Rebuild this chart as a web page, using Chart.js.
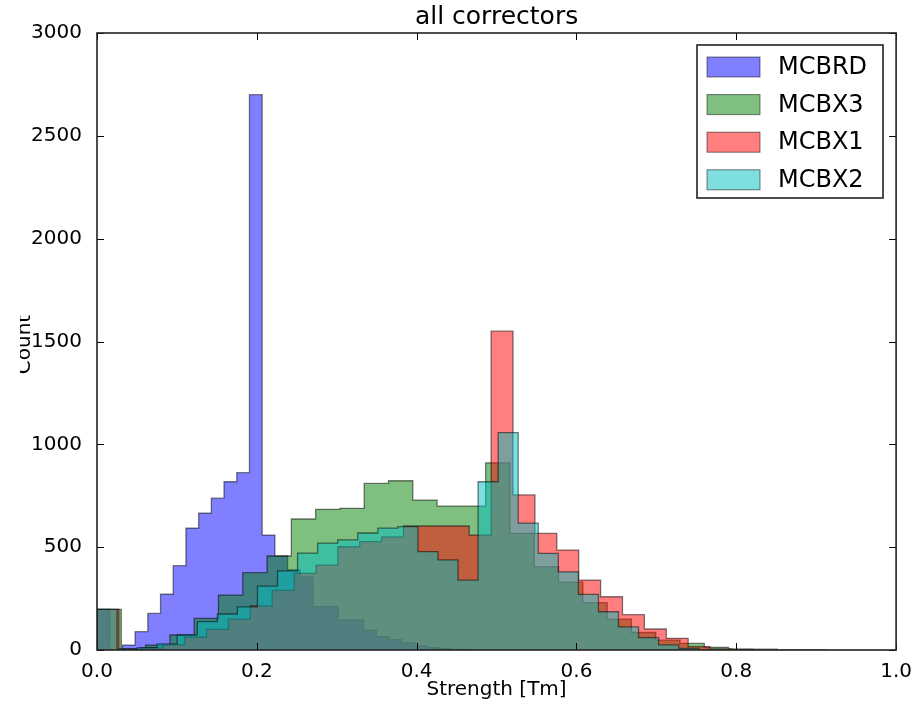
<!DOCTYPE html>
<html lang="en">
<head>
<meta charset="UTF-8">
<title>all correctors</title>
<script src="https://cdn.jsdelivr.net/npm/chart.js"></script>
<style>
    body { margin: 0; background: #fff; }
    #wrap { width: 914px; height: 702px; }
</style>
</head>
<body>
<div id="wrap"><canvas id="hist" width="914" height="702"></canvas></div>
<script>
    // histogram counts, 30 bins per series, each series binned from 0 to its own max
    const seriesNames = ['MCBRD', 'MCBX3', 'MCBX1', 'MCBX2'];
    const binWidths = [0.0159, 0.0304, 0.0274, 0.0251];

    const mcbrdCounts = [198, 0, 24, 89, 178, 271, 410, 592, 665, 738, 818, 862, 2700, 559, 457,
        390, 356, 211, 211, 146, 146, 97, 65, 50, 35, 20, 12, 6, 3, 1];
    const mcbx3Counts = [198, 5, 24, 73, 154, 267, 376, 457, 637, 684, 689, 810, 823, 729, 700,
        700, 910, 567, 405, 330, 230, 150, 85, 48, 32, 13, 5, 4, 1, 1];
    const mcbx1Counts = [198, 3, 10, 25, 62, 100, 150, 215, 290, 373, 413, 502, 527, 550, 603,
        603, 603, 559, 1550, 754, 567, 486, 340, 259, 172, 102, 57, 16, 5, 2];
    const mcbx2Counts = [198, 5, 12, 30, 73, 138, 175, 210, 311, 385, 471, 520, 535, 569, 593,
        600, 478, 438, 340, 818, 1057, 617, 470, 380, 270, 186, 112, 60, 25, 8];

    const xTicks = [0.0, 0.2, 0.4, 0.6, 0.8, 1.0];
    const yTicks = [0, 500, 1000, 1500, 2000, 2500, 3000];

    const fillColors = ['rgba(0,0,255,0.5)', 'rgba(0,128,0,0.5)', 'rgba(255,0,0,0.5)', 'rgba(0,191,191,0.5)'];
    const edgeColor = 'rgba(0,0,0,0.5)';
    const FONT = 'DejaVu Sans';

    // stepfilled outline: left edge of each bin, closed down to zero at both ends
    function stepPoints(counts, w) {
        const pts = [{x: 0, y: 0}];
        counts.forEach((c, i) => pts.push({x: i * w, y: c}));
        pts.push({x: counts.length * w, y: 0});
        return pts;
    }

    const allCounts = [mcbrdCounts, mcbx3Counts, mcbx1Counts, mcbx2Counts];
    const datasets = allCounts.map((counts, i) => ({
        label: seriesNames[i],
        data: stepPoints(counts, binWidths[i]),
        stepped: true,
        fill: 'origin',
        backgroundColor: fillColors[i],
        borderColor: edgeColor,
        borderWidth: 1.3,
        pointRadius: 0,
        order: allCounts.length - i   // first series at the bottom, like matplotlib
    }));

    const mplDecor = {
        id: 'mplDecor',
        afterDraw(chart) {
            const ctx = chart.ctx;
            const a = chart.chartArea;
            const xs = chart.scales.x, ys = chart.scales.y;
            ctx.save();

            // inward ticks on all four sides
            ctx.strokeStyle = '#000';
            ctx.lineWidth = 1;
            ctx.beginPath();
            xTicks.forEach(v => {
                const px = Math.round(xs.getPixelForValue(v)) + 0.5;
                ctx.moveTo(px, a.bottom); ctx.lineTo(px, a.bottom - 7);
                ctx.moveTo(px, a.top); ctx.lineTo(px, a.top + 7);
            });
            yTicks.forEach(v => {
                const py = Math.round(ys.getPixelForValue(v)) + 0.5;
                ctx.moveTo(a.left, py); ctx.lineTo(a.left + 7, py);
                ctx.moveTo(a.right, py); ctx.lineTo(a.right - 7, py);
            });
            ctx.stroke();

            // frame
            ctx.lineWidth = 1.6;
            ctx.strokeStyle = '#222';
            ctx.strokeRect(a.left, a.top, a.right - a.left, a.bottom - a.top);

            // title
            ctx.fillStyle = '#000';
            ctx.font = '25px "' + FONT + '"';
            ctx.textAlign = 'center';
            ctx.textBaseline = 'alphabetic';
            ctx.fillText('all correctors', (a.left + a.right) / 2, 24);

            // y label, cut at the left edge as in the original
            ctx.save();
            ctx.beginPath();
            ctx.rect(20, 0, 80, chart.height);
            ctx.clip();
            ctx.translate(30, (a.top + a.bottom) / 2 + 3);
            ctx.rotate(-Math.PI / 2);
            ctx.font = '20px "' + FONT + '"';
            ctx.fillText('Count', 0, 0);
            ctx.restore();

            // legend box
            const lx = 697, ly = 45, lw = 186, lh = 153;
            ctx.fillStyle = '#fff';
            ctx.fillRect(lx, ly, lw, lh);
            ctx.lineWidth = 1.6;
            ctx.strokeStyle = '#222';
            ctx.strokeRect(lx, ly, lw, lh);
            ctx.font = '24px "' + FONT + '"';
            ctx.textAlign = 'left';
            ctx.textBaseline = 'middle';
            chart.data.datasets.forEach((ds, i) => {
                const cy = ly + 22 + i * 37.6;
                ctx.fillStyle = ds.backgroundColor;
                ctx.fillRect(lx + 10, cy - 10, 53, 20);
                ctx.strokeStyle = ds.borderColor;
                ctx.lineWidth = 1;
                ctx.strokeRect(lx + 10, cy - 10, 53, 20);
                ctx.fillStyle = '#000';
                ctx.fillText(ds.label, lx + 81, cy + 1);
            });
            ctx.restore();
        }
    };

    new Chart(document.getElementById('hist').getContext('2d'), {
        type: 'line',
        data: { datasets: datasets },
        options: {
            responsive: false,
            devicePixelRatio: 1,
            animation: false,
            layout: { padding: { left: 0, right: 17, top: 33, bottom: 0 } },
            plugins: {
                legend: { display: false },
                tooltip: { enabled: false },
                title: { display: false }
            },
            scales: {
                x: {
                    type: 'linear',
                    min: 0,
                    max: 1,
                    afterBuildTicks: s => { s.ticks = xTicks.map(v => ({value: v})); },
                    afterFit: s => { s.height = 52; },
                    grid: { display: false },
                    border: { display: false },
                    ticks: {
                        color: '#000',
                        font: { family: FONT, size: 20 },
                        padding: 2,
                        maxRotation: 0,
                        callback: v => v.toFixed(1)
                    },
                    title: {
                        display: true,
                        text: 'Strength [Tm]',
                        color: '#000',
                        font: { family: FONT, size: 20 },
                        padding: { top: 0, bottom: 0 }
                    }
                },
                y: {
                    min: 0,
                    max: 3000,
                    afterBuildTicks: s => { s.ticks = yTicks.map(v => ({value: v})); },
                    afterFit: s => { s.width = 97; },
                    grid: { display: false },
                    border: { display: false },
                    ticks: {
                        color: '#000',
                        font: { family: FONT, size: 20 },
                        padding: 7,
                        callback: v => String(v)
                    }
                }
            }
        },
        plugins: [mplDecor]
    });
</script>
</body>
</html>
